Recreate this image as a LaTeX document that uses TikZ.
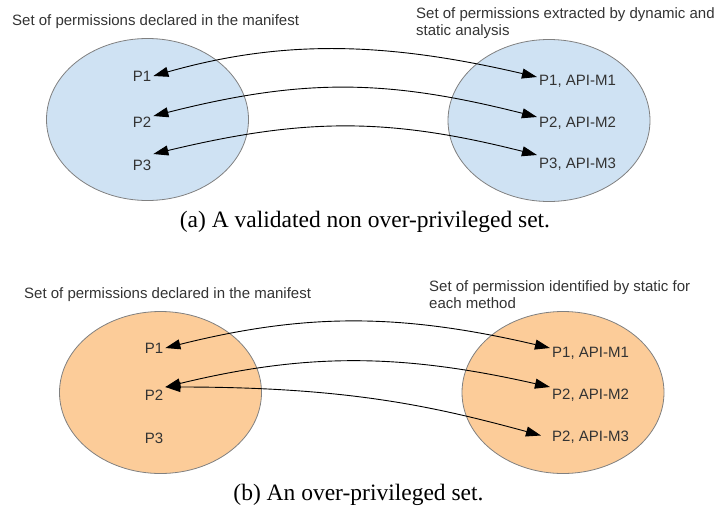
\documentclass[tikz,border=0pt]{standalone}
\usepackage{fontspec}
\setmainfont{Liberation Serif}
\setsansfont{Liberation Sans}
\usetikzlibrary{shapes.geometric, arrows.meta, positioning}
\definecolor{manifestblue}{RGB}{207,226,243}
\definecolor{overorange}{RGB}{252,204,153}
\definecolor{rimgray}{RGB}{128,128,128}
\definecolor{textgray}{RGB}{51,51,51}

\tikzset{
  permset/.style={draw=rimgray, line width=0.8pt, ellipse, inner sep=0pt, minimum width=202pt, minimum height=162pt},
  perm/.style={font=\sffamily\fontsize{15}{16.5}\selectfont, text=textgray, inner sep=2pt},
  settitle/.style={font=\sffamily\fontsize{15}{16.5}\selectfont, text=textgray, inner sep=0pt, align=left, anchor=base west},
  caption/.style={font=\fontsize{23.5}{26}\selectfont, inner sep=0pt},
  link/.style={<->, >={Triangle[length=15pt, width=10pt]}, line width=0.9pt, black}
}

\begin{document}
\begin{tikzpicture}[x=1pt, y=-1pt]
  \useasboundingbox (0,0) rectangle (717,514);

  % (a) validated set
  \node[permset, fill=manifestblue] (declA) at (147.5,119.5) {};
  \node[permset, fill=manifestblue] (foundA) at (549,120.5) {};

  \node[settitle] (titleAl) at (12,25) {Set of permissions declared in the manifest};
  \node[settitle] (titleAr) at (416,35) {Set of permissions extracted by dynamic and\\static analysis};

  \node[perm] (pa1) at (142,76) {P1};
  \node[perm] (pa2) at (142,122) {P2};
  \node[perm] (pa3) at (142,165) {P3};

  \node[perm] (ma1) at (577.5,81) {P1, API-M1};
  \node[perm] (ma2) at (577.5,123) {P2, API-M2};
  \node[perm] (ma3) at (577.5,164) {P3, API-M3};

  \draw[link] (pa1.east) .. controls +(130,-37) and +(-150,-35) .. ([yshift=4pt]ma1.west);
  \draw[link] ([yshift=6pt]pa2.east) .. controls +(150,-38) and +(-150,-38) .. ([yshift=6pt]ma2.west);
  \draw[link] ([yshift=11pt]pa3.east) .. controls +(150,-36) and +(-150,-38) .. ([yshift=9pt]ma3.west);

  \node[caption] (capA) at (365,222) {(a) A validated non over-privileged set.};

  % (b) over-privileged set
  \node[permset, fill=overorange] (declB) at (160.5,392.5) {};
  \node[permset, fill=overorange] (foundB) at (563,392.5) {};

  \node[settitle] (titleBl) at (24,298) {Set of permissions declared in the manifest};
  \node[settitle] (titleBr) at (429,308) {Set of permission identified by static for\\each method};

  \node[perm] (pb1) at (154,348) {P1};
  \node[perm] (pb2) at (154,395) {P2};
  \node[perm] (pb3) at (154,438) {P3};

  \node[perm] (mb1) at (590.5,353) {P1, API-M1};
  \node[perm] (mb2) at (590.5,395) {P2, API-M2};
  \node[perm] (mb3) at (590.5,437.5) {P2, API-M3};

  \draw[link] (pb1.east) .. controls +(140,-35) and +(-150,-35) .. ([yshift=5pt]mb1.west);
  \draw[link] ([yshift=8pt]pb2.east) .. controls +(140,-34) and +(-150,-34) .. ([yshift=8pt]mb2.west);
  \draw[link] ([yshift=8pt]pb2.east) .. controls +(180,0) and +(-110,-30) .. ([xshift=-9pt, yshift=2pt]mb3.west);

  \node[caption] (capB) at (358.5,495) {(b) An over-privileged set.};
\end{tikzpicture}
\end{document}
